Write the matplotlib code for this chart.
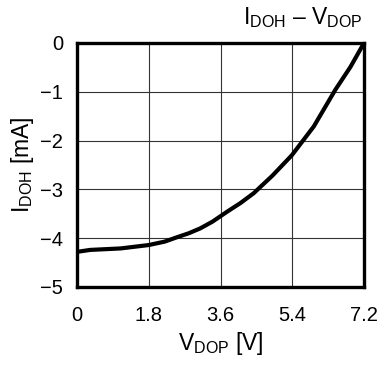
import numpy as np
import matplotlib.pyplot as plt

plt.rcParams['font.family'] = ['Liberation Sans', 'DejaVu Sans']
plt.rcParams['mathtext.fontset'] = 'custom'
plt.rcParams['mathtext.rm'] = 'Liberation Sans'

# curve
v_dop = [0, 0.33, 1.09, 1.8, 2.2, 2.51, 2.8, 3.09, 3.4, 3.76, 4.1, 4.43, 4.9,
         5.39, 5.94, 6.48, 6.86, 7.2]
i_doh = [-4.28, -4.24, -4.21, -4.14, -4.07, -3.98, -3.90, -3.80, -3.66, -3.46,
         -3.28, -3.08, -2.72, -2.30, -1.71, -0.96, -0.49, 0.0]

x_ticks = [0, 1.8, 3.6, 5.4, 7.2]
x_tick_labels = ['0', '1.8', '3.6', '5.4', '7.2']
y_ticks = [0, -1, -2, -3, -4, -5]

fig = plt.figure(figsize=(3.79, 3.65), dpi=100)
ax = fig.add_axes([77 / 379, 1 - 287 / 365, 287 / 379, 244 / 365])

ax.plot(v_dop, i_doh, color='black', linewidth=3, solid_capstyle='butt', zorder=3)

ax.set_xlim(0, 7.2)
ax.set_ylim(-5, 0)
ax.set_xticks(x_ticks)
ax.set_xticklabels(x_tick_labels)
ax.set_yticks(y_ticks)
ax.grid(True, color='#333333', linewidth=0.8)
ax.tick_params(length=0, labelsize=14.5)
ax.tick_params(axis='x', pad=14)
ax.tick_params(axis='y', pad=10)
for s in ax.spines.values():
    s.set_linewidth(2.4)
    s.set_zorder(4)

ax.set_xlabel(r'$\mathregular{V_{DOP}}$ [V]', fontsize=16.5, labelpad=3)
ax.set_ylabel(r'$\mathregular{I_{DOH}}$ [mA]', fontsize=16.5, labelpad=3)
fig.text(363 / 379, 1 - 18 / 365, r'$\mathregular{I_{DOH}}$ – $\mathregular{V_{DOP}}$',
         fontsize=16.5, ha='right', va='center')

fig.savefig('out.png', dpi=100)
